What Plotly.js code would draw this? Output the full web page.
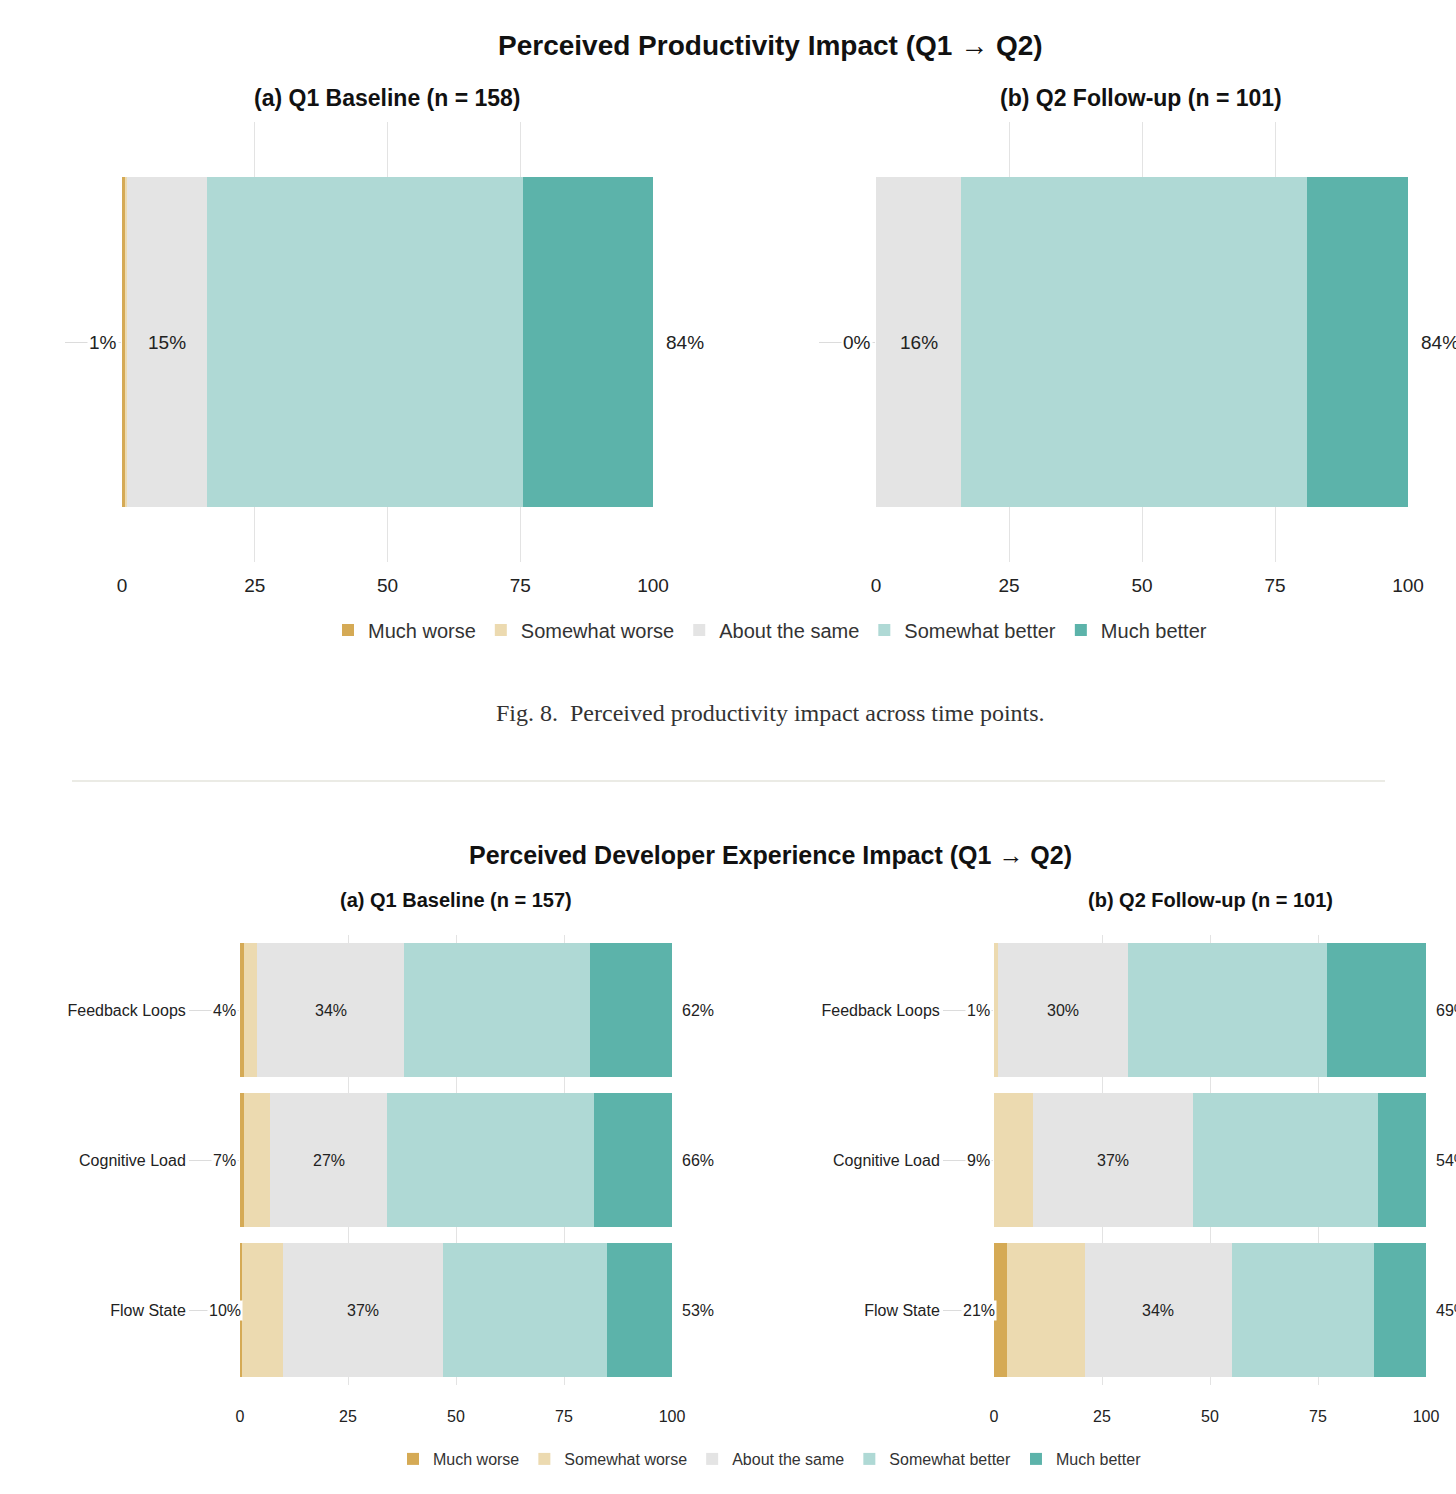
<!DOCTYPE html>
<html><head><meta charset="utf-8">
<script src="https://cdn.plot.ly/plotly-3.0.1.min.js"></script>
<style>html,body{margin:0;padding:0;overflow:hidden;background:#fff}#c{width:1480px;height:1494px}</style>
</head><body><div id="c"></div>
<script>
const levels = ['Much worse','Somewhat worse','About the same','Somewhat better','Much better'];
const colors = ['#D5AA55','#ECDAB0','#E4E4E4','#AFD9D5','#5CB3AA'];
// Productivity (single category)
const prodCat = ['Overall'];
const prodQ1 = [0.5, 0.5, 15, 59.5, 24.5];
const prodQ2 = [0, 0, 16, 65, 19];
// Developer experience
const dxCats = ['Feedback Loops','Cognitive Load','Flow State'];
const dxQ1 = {
  'Much worse':[1,1,0.5], 'Somewhat worse':[3,6,9.5], 'About the same':[34,27,37],
  'Somewhat better':[43,48,38], 'Much better':[19,18,15]};
const dxQ2 = {
  'Much worse':[0,0,3], 'Somewhat worse':[1,9,18], 'About the same':[30,37,34],
  'Somewhat better':[46,43,33], 'Much better':[23,11,12]};

const W=1480,H=1494;
const dx=(a,b)=>[a/W,b/W], dy=(t,b)=>[1-b/H,1-t/H];
const FONT='Liberation Sans, Arial, sans-serif';
const traces=[], ann=[];

function addPanel(xa, ya, cats, vals, legendName, showLeg, fs, bw){
  levels.forEach((lv,i)=>{
    traces.push({type:'bar',orientation:'h',x:vals[lv],y:cats,name:lv,width:bw,
      marker:{color:colors[i],line:{width:0}},xaxis:xa,yaxis:ya,
      legend:legendName,showlegend:showLeg,hoverinfo:'x+name'});
  });
  const xd=xa+' domain';
  cats.forEach((c,j)=>{
    const w=vals['Much worse'][j]+vals['Somewhat worse'][j];
    const s=vals['About the same'][j];
    const b=vals['Somewhat better'][j]+vals['Much better'][j];
    const base={xref:xd,yref:ya,y:c,showarrow:false,xanchor:'center',yanchor:'middle',font:{family:FONT,size:fs,color:'#222'}};
    ann.push({...base,x:-0.035,text:Math.round(w)+'%',bgcolor:'#fff'});
    ann.push({...base,x:(w+s/2)/100,text:Math.round(s)+'%'});
    ann.push({...base,x:1.06,text:Math.round(b)+'%'});
  });
}
const one=a=>({'Much worse':[a[0]],'Somewhat worse':[a[1]],'About the same':[a[2]],'Somewhat better':[a[3]],'Much better':[a[4]]});
addPanel('x','y',prodCat,one(prodQ1),'legend',true,19,0.75);
addPanel('x2','y2',prodCat,one(prodQ2),'legend',false,19,0.75);
addPanel('x3','y3',dxCats,dxQ1,'legend2',true,16,0.893);
addPanel('x4','y4',dxCats,dxQ2,'legend2',false,16,0.893);

const xax=(d,fs,anchor,so)=>({domain:d,range:[0,100],tickvals:[0,25,50,75,100],showgrid:true,gridcolor:'#e3e3e3',gridwidth:1,
  zeroline:false,showline:false,ticks:'',anchor:anchor,ticklabelstandoff:so,tickfont:{family:FONT,size:fs,color:'#222'},fixedrange:true});
const yax=(d,anchor,labels)=>({domain:d,anchor:anchor,autorange:'reversed',showgrid:false,zeroline:false,
  ticks:'outside',ticklen:labels?50:56,tickcolor:'#dcdcdc',tickwidth:1,showticklabels:labels,
  tickfont:{family:FONT,size:16,color:'#222'},fixedrange:true});

const T=(x,y,text,size,extra)=>Object.assign({xref:'paper',yref:'paper',x:x/W,y:1-y/H,xanchor:'center',yanchor:'middle',text:text,showarrow:false,font:{family:FONT,size:size,color:'#111'}},extra||{});

const layout={width:W,height:H,margin:{l:0,r:0,t:0,b:0},paper_bgcolor:'#fff',plot_bgcolor:'#fff',
  barmode:'stack',font:{family:FONT},
  xaxis:xax(dx(122,653),19,'y',10), yaxis:yax(dy(122,562),'x',false),
  xaxis2:xax(dx(876,1408),19,'y2',10), yaxis2:yax(dy(122,562),'x2',false),
  xaxis3:xax(dx(240,672),16,'y3',20), yaxis3:yax(dy(935,1385),'x3',true),
  xaxis4:xax(dx(994,1426),16,'y4',20), yaxis4:yax(dy(935,1385),'x4',true),
  legend:{orientation:'h',x:770/W,xanchor:'center',y:1-630/H,yanchor:'middle',font:{family:FONT,size:20,color:'#333'},traceorder:'normal'},
  legend2:{orientation:'h',x:770/W,xanchor:'center',y:1-1459/H,yanchor:'middle',font:{family:FONT,size:16,color:'#333'},traceorder:'normal'},
  shapes:[{type:'line',xref:'paper',yref:'paper',x0:72/W,x1:1385/W,y0:1-781/H,y1:1-781/H,line:{color:'#e4e4dc',width:1.5}}],
  annotations:ann.concat([
    T(770,45,'<b>Perceived Productivity Impact (Q1 → Q2)</b>',28),
    T(387,98,'<b>(a) Q1 Baseline (n = 158)</b>',23),
    T(1141,98,'<b>(b) Q2 Follow-up (n = 101)</b>',23),
    T(770,713,'Fig. 8.  Perceived productivity impact across time points.',24,{font:{family:'Liberation Serif, DejaVu Serif, serif',size:24,color:'#333'}}),
    T(770,855,'<b>Perceived Developer Experience Impact (Q1 → Q2)</b>',25),
    T(456,900,'<b>(a) Q1 Baseline (n = 157)</b>',20),
    T(1210,900,'<b>(b) Q2 Follow-up (n = 101)</b>',20)
  ])
};
Plotly.newPlot('c',traces,layout,{displayModeBar:false,staticPlot:true});
</script></body></html>
